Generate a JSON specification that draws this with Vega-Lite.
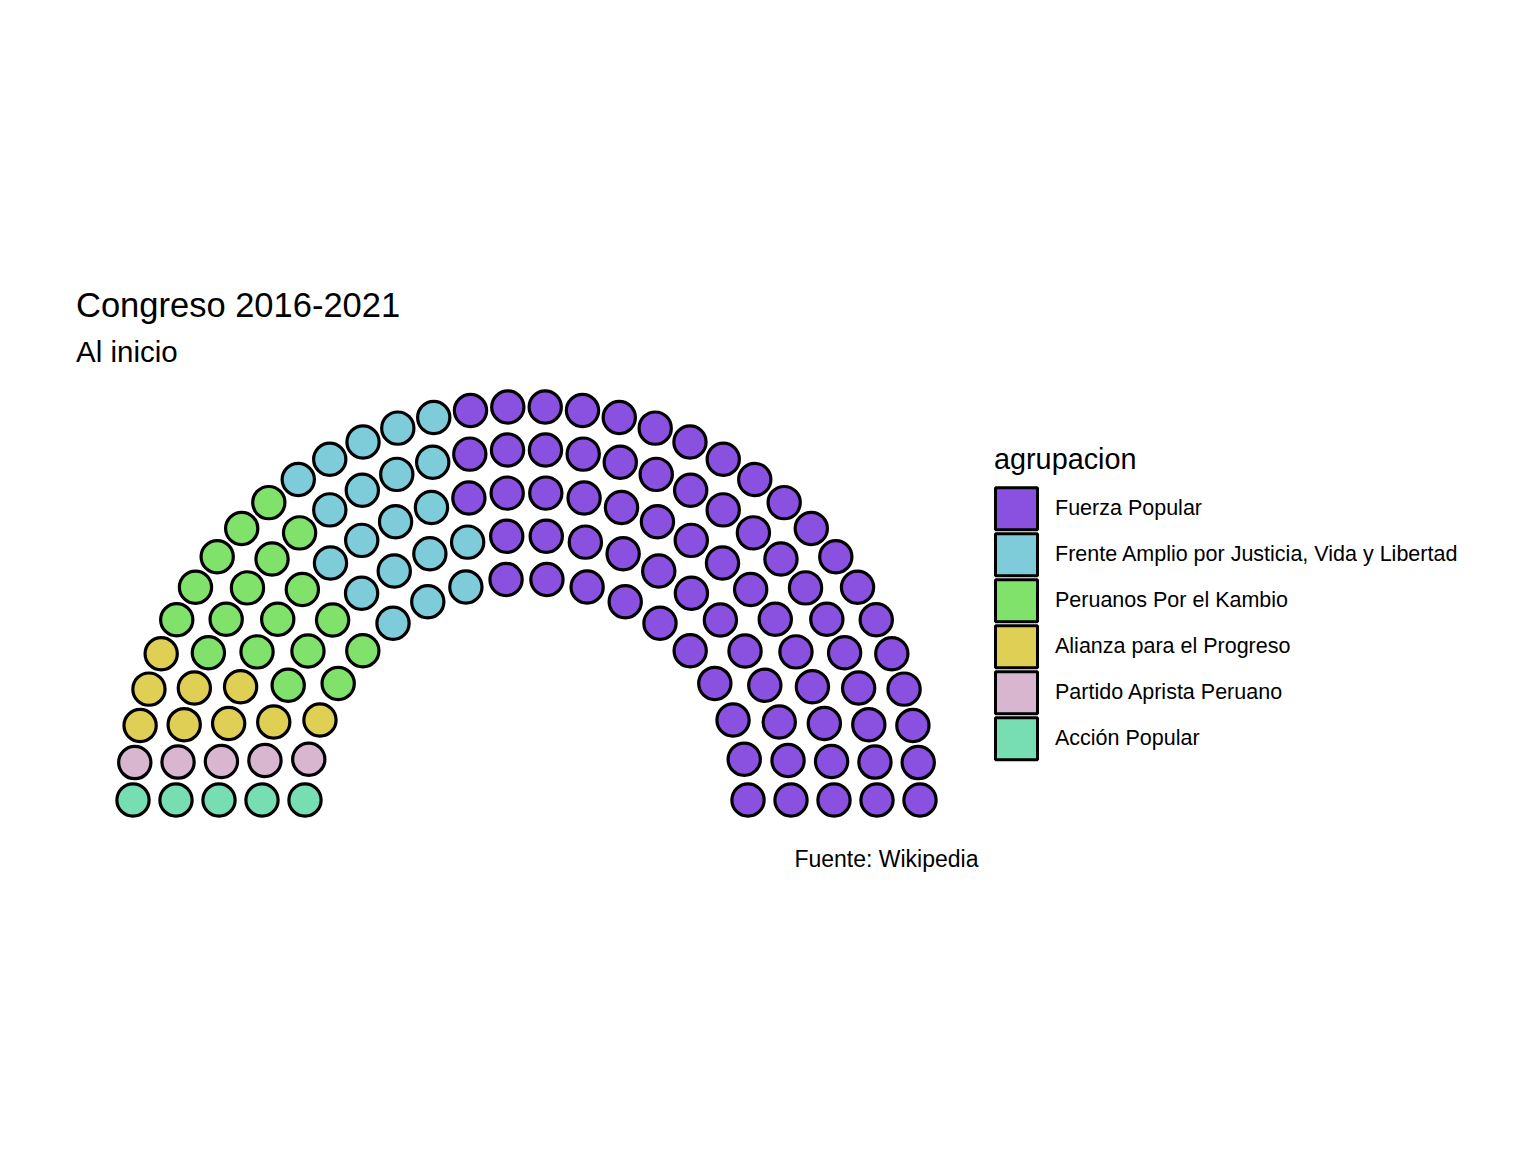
{
  "$schema": "https://vega.github.io/schema/vega-lite/v6.json",
  "autosize": "none",
  "width": 902,
  "height": 433,
  "padding": {"left": 76, "top": 387, "right": 558, "bottom": 332},
  "background": "white",
  "title": {
    "text": "Congreso 2016-2021",
    "subtitle": "Al inicio",
    "anchor": "start",
    "frame": "group",
    "font": "Liberation Sans",
    "subtitleFont": "Liberation Sans",
    "fontSize": 34.5,
    "subtitleFontSize": 29.5,
    "fontWeight": "normal",
    "subtitleFontWeight": "normal",
    "color": "black",
    "subtitleColor": "black",
    "subtitlePadding": 14.5,
    "offset": 16
  },
  "data": {
    "values": [
      {"x": -393.5, "y": 0, "agrupacion": "Acción Popular"},
      {"x": -391.72, "y": 37.4, "agrupacion": "Partido Aprista Peruano"},
      {"x": -386.39, "y": 74.47, "agrupacion": "Alianza para el Progreso"},
      {"x": -377.56, "y": 110.86, "agrupacion": "Alianza para el Progreso"},
      {"x": -365.31, "y": 146.25, "agrupacion": "Alianza para el Progreso"},
      {"x": -349.76, "y": 180.31, "agrupacion": "Peruanos Por el Kambio"},
      {"x": -331.03, "y": 212.74, "agrupacion": "Peruanos Por el Kambio"},
      {"x": -309.31, "y": 243.25, "agrupacion": "Peruanos Por el Kambio"},
      {"x": -284.79, "y": 271.55, "agrupacion": "Peruanos Por el Kambio"},
      {"x": -257.69, "y": 297.39, "agrupacion": "Peruanos Por el Kambio"},
      {"x": -228.25, "y": 320.54, "agrupacion": "Frente Amplio por Justicia, Vida y Libertad"},
      {"x": -196.75, "y": 340.78, "agrupacion": "Frente Amplio por Justicia, Vida y Libertad"},
      {"x": -163.47, "y": 357.94, "agrupacion": "Frente Amplio por Justicia, Vida y Libertad"},
      {"x": -128.7, "y": 371.86, "agrupacion": "Frente Amplio por Justicia, Vida y Libertad"},
      {"x": -92.77, "y": 382.41, "agrupacion": "Frente Amplio por Justicia, Vida y Libertad"},
      {"x": -56.0, "y": 389.5, "agrupacion": "Fuerza Popular"},
      {"x": -18.72, "y": 393.05, "agrupacion": "Fuerza Popular"},
      {"x": 18.72, "y": 393.05, "agrupacion": "Fuerza Popular"},
      {"x": 56.0, "y": 389.5, "agrupacion": "Fuerza Popular"},
      {"x": 92.77, "y": 382.41, "agrupacion": "Fuerza Popular"},
      {"x": 128.7, "y": 371.86, "agrupacion": "Fuerza Popular"},
      {"x": 163.47, "y": 357.94, "agrupacion": "Fuerza Popular"},
      {"x": 196.75, "y": 340.78, "agrupacion": "Fuerza Popular"},
      {"x": 228.25, "y": 320.54, "agrupacion": "Fuerza Popular"},
      {"x": 257.69, "y": 297.39, "agrupacion": "Fuerza Popular"},
      {"x": 284.79, "y": 271.55, "agrupacion": "Fuerza Popular"},
      {"x": 309.31, "y": 243.25, "agrupacion": "Fuerza Popular"},
      {"x": 331.03, "y": 212.74, "agrupacion": "Fuerza Popular"},
      {"x": 349.76, "y": 180.31, "agrupacion": "Fuerza Popular"},
      {"x": 365.31, "y": 146.25, "agrupacion": "Fuerza Popular"},
      {"x": 377.56, "y": 110.86, "agrupacion": "Fuerza Popular"},
      {"x": 386.39, "y": 74.47, "agrupacion": "Fuerza Popular"},
      {"x": 391.72, "y": 37.4, "agrupacion": "Fuerza Popular"},
      {"x": 393.5, "y": 0, "agrupacion": "Fuerza Popular"},

      {"x": -350.5, "y": 0, "agrupacion": "Acción Popular"},
      {"x": -348.45, "y": 37.9, "agrupacion": "Partido Aprista Peruano"},
      {"x": -342.31, "y": 75.35, "agrupacion": "Alianza para el Progreso"},
      {"x": -332.15, "y": 111.92, "agrupacion": "Alianza para el Progreso"},
      {"x": -318.11, "y": 147.17, "agrupacion": "Peruanos Por el Kambio"},
      {"x": -300.33, "y": 180.7, "agrupacion": "Peruanos Por el Kambio"},
      {"x": -279.03, "y": 212.11, "agrupacion": "Peruanos Por el Kambio"},
      {"x": -254.46, "y": 241.04, "agrupacion": "Peruanos Por el Kambio"},
      {"x": -226.91, "y": 267.14, "agrupacion": "Peruanos Por el Kambio"},
      {"x": -196.7, "y": 290.11, "agrupacion": "Frente Amplio por Justicia, Vida y Libertad"},
      {"x": -164.18, "y": 309.67, "agrupacion": "Frente Amplio por Justicia, Vida y Libertad"},
      {"x": -129.73, "y": 325.61, "agrupacion": "Frente Amplio por Justicia, Vida y Libertad"},
      {"x": -93.77, "y": 337.72, "agrupacion": "Frente Amplio por Justicia, Vida y Libertad"},
      {"x": -56.7, "y": 345.88, "agrupacion": "Fuerza Popular"},
      {"x": -18.98, "y": 349.99, "agrupacion": "Fuerza Popular"},
      {"x": 18.98, "y": 349.99, "agrupacion": "Fuerza Popular"},
      {"x": 56.7, "y": 345.88, "agrupacion": "Fuerza Popular"},
      {"x": 93.77, "y": 337.72, "agrupacion": "Fuerza Popular"},
      {"x": 129.73, "y": 325.61, "agrupacion": "Fuerza Popular"},
      {"x": 164.18, "y": 309.67, "agrupacion": "Fuerza Popular"},
      {"x": 196.7, "y": 290.11, "agrupacion": "Fuerza Popular"},
      {"x": 226.91, "y": 267.14, "agrupacion": "Fuerza Popular"},
      {"x": 254.46, "y": 241.04, "agrupacion": "Fuerza Popular"},
      {"x": 279.03, "y": 212.11, "agrupacion": "Fuerza Popular"},
      {"x": 300.33, "y": 180.7, "agrupacion": "Fuerza Popular"},
      {"x": 318.11, "y": 147.17, "agrupacion": "Fuerza Popular"},
      {"x": 332.15, "y": 111.92, "agrupacion": "Fuerza Popular"},
      {"x": 342.31, "y": 75.35, "agrupacion": "Fuerza Popular"},
      {"x": 348.45, "y": 37.9, "agrupacion": "Fuerza Popular"},
      {"x": 350.5, "y": 0, "agrupacion": "Fuerza Popular"},

      {"x": -307.5, "y": 0, "agrupacion": "Acción Popular"},
      {"x": -305.08, "y": 38.54, "agrupacion": "Partido Aprista Peruano"},
      {"x": -297.84, "y": 76.47, "agrupacion": "Alianza para el Progreso"},
      {"x": -285.91, "y": 113.2, "agrupacion": "Alianza para el Progreso"},
      {"x": -269.46, "y": 148.14, "agrupacion": "Peruanos Por el Kambio"},
      {"x": -248.77, "y": 180.74, "agrupacion": "Peruanos Por el Kambio"},
      {"x": -224.16, "y": 210.5, "agrupacion": "Peruanos Por el Kambio"},
      {"x": -196.01, "y": 236.93, "agrupacion": "Frente Amplio por Justicia, Vida y Libertad"},
      {"x": -164.77, "y": 259.63, "agrupacion": "Frente Amplio por Justicia, Vida y Libertad"},
      {"x": -130.93, "y": 278.23, "agrupacion": "Frente Amplio por Justicia, Vida y Libertad"},
      {"x": -95.02, "y": 292.45, "agrupacion": "Frente Amplio por Justicia, Vida y Libertad"},
      {"x": -57.62, "y": 302.05, "agrupacion": "Fuerza Popular"},
      {"x": -19.31, "y": 306.89, "agrupacion": "Fuerza Popular"},
      {"x": 19.31, "y": 306.89, "agrupacion": "Fuerza Popular"},
      {"x": 57.62, "y": 302.05, "agrupacion": "Fuerza Popular"},
      {"x": 95.02, "y": 292.45, "agrupacion": "Fuerza Popular"},
      {"x": 130.93, "y": 278.23, "agrupacion": "Fuerza Popular"},
      {"x": 164.77, "y": 259.63, "agrupacion": "Fuerza Popular"},
      {"x": 196.01, "y": 236.93, "agrupacion": "Fuerza Popular"},
      {"x": 224.16, "y": 210.5, "agrupacion": "Fuerza Popular"},
      {"x": 248.77, "y": 180.74, "agrupacion": "Fuerza Popular"},
      {"x": 269.46, "y": 148.14, "agrupacion": "Fuerza Popular"},
      {"x": 285.91, "y": 113.2, "agrupacion": "Fuerza Popular"},
      {"x": 297.84, "y": 76.47, "agrupacion": "Fuerza Popular"},
      {"x": 305.08, "y": 38.54, "agrupacion": "Fuerza Popular"},
      {"x": 307.5, "y": 0, "agrupacion": "Fuerza Popular"},

      {"x": -264.5, "y": 0, "agrupacion": "Acción Popular"},
      {"x": -261.55, "y": 39.42, "agrupacion": "Partido Aprista Peruano"},
      {"x": -252.75, "y": 77.96, "agrupacion": "Alianza para el Progreso"},
      {"x": -238.31, "y": 114.76, "agrupacion": "Peruanos Por el Kambio"},
      {"x": -218.54, "y": 149.0, "agrupacion": "Peruanos Por el Kambio"},
      {"x": -193.89, "y": 179.91, "agrupacion": "Peruanos Por el Kambio"},
      {"x": -164.91, "y": 206.79, "agrupacion": "Frente Amplio por Justicia, Vida y Libertad"},
      {"x": -132.25, "y": 229.06, "agrupacion": "Frente Amplio por Justicia, Vida y Libertad"},
      {"x": -96.63, "y": 246.22, "agrupacion": "Frente Amplio por Justicia, Vida y Libertad"},
      {"x": -58.86, "y": 257.87, "agrupacion": "Frente Amplio por Justicia, Vida y Libertad"},
      {"x": -19.77, "y": 263.76, "agrupacion": "Fuerza Popular"},
      {"x": 19.77, "y": 263.76, "agrupacion": "Fuerza Popular"},
      {"x": 58.86, "y": 257.87, "agrupacion": "Fuerza Popular"},
      {"x": 96.63, "y": 246.22, "agrupacion": "Fuerza Popular"},
      {"x": 132.25, "y": 229.06, "agrupacion": "Fuerza Popular"},
      {"x": 164.91, "y": 206.79, "agrupacion": "Fuerza Popular"},
      {"x": 193.89, "y": 179.91, "agrupacion": "Fuerza Popular"},
      {"x": 218.54, "y": 149.0, "agrupacion": "Fuerza Popular"},
      {"x": 238.31, "y": 114.76, "agrupacion": "Fuerza Popular"},
      {"x": 252.75, "y": 77.96, "agrupacion": "Fuerza Popular"},
      {"x": 261.55, "y": 39.42, "agrupacion": "Fuerza Popular"},
      {"x": 264.5, "y": 0, "agrupacion": "Fuerza Popular"},

      {"x": -221.5, "y": 0, "agrupacion": "Acción Popular"},
      {"x": -217.73, "y": 40.7, "agrupacion": "Partido Aprista Peruano"},
      {"x": -206.54, "y": 80.01, "agrupacion": "Alianza para el Progreso"},
      {"x": -188.32, "y": 116.6, "agrupacion": "Peruanos Por el Kambio"},
      {"x": -163.69, "y": 149.22, "agrupacion": "Peruanos Por el Kambio"},
      {"x": -133.48, "y": 176.76, "agrupacion": "Frente Amplio por Justicia, Vida y Libertad"},
      {"x": -98.73, "y": 198.28, "agrupacion": "Frente Amplio por Justicia, Vida y Libertad"},
      {"x": -60.62, "y": 213.04, "agrupacion": "Frente Amplio por Justicia, Vida y Libertad"},
      {"x": -20.44, "y": 220.55, "agrupacion": "Fuerza Popular"},
      {"x": 20.44, "y": 220.55, "agrupacion": "Fuerza Popular"},
      {"x": 60.62, "y": 213.04, "agrupacion": "Fuerza Popular"},
      {"x": 98.73, "y": 198.28, "agrupacion": "Fuerza Popular"},
      {"x": 133.48, "y": 176.76, "agrupacion": "Fuerza Popular"},
      {"x": 163.69, "y": 149.22, "agrupacion": "Fuerza Popular"},
      {"x": 188.32, "y": 116.6, "agrupacion": "Fuerza Popular"},
      {"x": 206.54, "y": 80.01, "agrupacion": "Fuerza Popular"},
      {"x": 217.73, "y": 40.7, "agrupacion": "Fuerza Popular"},
      {"x": 221.5, "y": 0, "agrupacion": "Fuerza Popular"}
    ]
  },
  "mark": {"type": "circle", "size": 1040, "stroke": "black", "strokeWidth": 3.2, "opacity": 1},
  "encoding": {
    "x": {
      "field": "x",
      "type": "quantitative",
      "scale": {"domain": [-450.5, 451.5], "nice": false, "zero": false},
      "axis": {
        "title": "Fuente: Wikipedia",
        "domain": false,
        "ticks": false,
        "labels": false,
        "grid": false,
        "titleAnchor": "end",
        "titleAlign": "right",
        "titleFont": "Liberation Sans",
        "titleFontSize": 23,
        "titleFontWeight": "normal",
        "titleColor": "black",
        "titlePadding": 28.5
      }
    },
    "y": {
      "field": "y",
      "type": "quantitative",
      "scale": {"domain": [-20, 413], "nice": false, "zero": false},
      "axis": null
    },
    "color": {
      "field": "agrupacion",
      "type": "nominal",
      "scale": {
        "domain": ["Fuerza Popular", "Frente Amplio por Justicia, Vida y Libertad", "Peruanos Por el Kambio", "Alianza para el Progreso", "Partido Aprista Peruano", "Acción Popular"],
        "range": ["#8A50E0", "#7ECCD9", "#81E26B", "#E0CF55", "#D8B6CF", "#77DDB2"]
      },
      "legend": {
        "title": "agrupacion",
        "orient": "none",
        "legendX": 918,
        "legendY": 58.5,
        "titleFont": "Liberation Sans",
        "titleFontSize": 28.8,
        "titleFontWeight": "normal",
        "titleColor": "black",
        "titlePadding": 12,
        "labelFont": "Liberation Sans",
        "labelFontSize": 21.5,
        "labelColor": "black",
        "labelLimit": 1000,
        "labelOffset": 16,
        "symbolType": "square",
        "symbolSize": 1764,
        "symbolStrokeColor": "black",
        "symbolStrokeWidth": 3,
        "symbolOpacity": 1,
        "rowPadding": 1,
        "encode": {
          "symbols": {"update": {"strokeJoin": {"value": "bevel"}}}
        }
      }
    }
  },
  "config": {
    "view": {"stroke": null}
  }
}
